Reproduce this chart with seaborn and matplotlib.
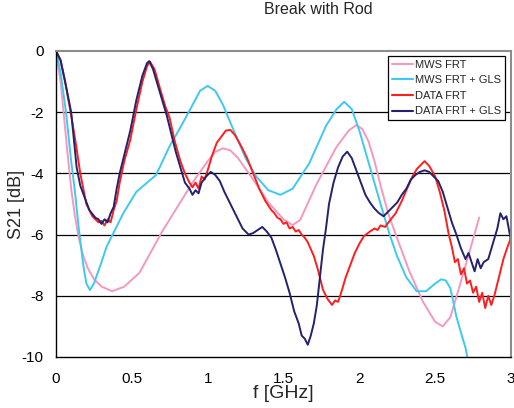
import numpy as np
import pandas as pd
import matplotlib
matplotlib.use("Agg")
import matplotlib.pyplot as plt
import seaborn as sns

# ---------------- data ----------------
mws_frt_f = [0.0, 0.03, 0.05, 0.075, 0.1, 0.125, 0.15, 0.18, 0.21, 0.25, 0.3, 0.37,
             0.45, 0.55, 0.6, 0.7, 0.8, 0.9, 1.0, 1.05, 1.1, 1.15, 1.2, 1.3, 1.4, 1.5,
             1.56, 1.61, 1.72, 1.85, 1.93, 1.98, 2.02, 2.06, 2.1, 2.14, 2.19, 2.24,
             2.33, 2.42, 2.5, 2.55, 2.6, 2.66, 2.73, 2.79]
mws_frt_s = [0.0, -1.0, -2.0, -3.3, -4.5, -5.4, -6.1, -6.7, -7.1, -7.45, -7.7, -7.85,
             -7.7, -7.25, -6.8, -5.9, -5.1, -4.3, -3.6, -3.3, -3.18, -3.25, -3.5, -4.2,
             -4.95, -5.5, -5.69, -5.52, -4.33, -3.13, -2.6, -2.42, -2.55, -2.95, -3.6,
             -4.4, -5.3, -6.0, -7.2, -8.2, -8.85, -9.0, -8.7, -7.7, -6.5, -5.44]

mws_gls_f = [0.0, 0.03, 0.066, 0.1, 0.125, 0.15, 0.18, 0.2, 0.224, 0.25, 0.3, 0.334,
             0.444, 0.53, 0.66, 0.75, 0.82, 0.88, 0.95, 1.0, 1.05, 1.1, 1.17, 1.25,
             1.32, 1.4, 1.48, 1.56, 1.67, 1.78, 1.85, 1.9, 1.95, 2.0, 2.07, 2.14, 2.2,
             2.25, 2.31, 2.378, 2.44, 2.5, 2.54, 2.57, 2.6, 2.62, 2.64, 2.67, 2.7,
             2.72]
mws_gls_s = [0.0, -0.7, -2.0, -3.6, -4.6, -5.8, -7.0, -7.6, -7.81, -7.6, -6.9, -6.39,
             -5.3, -4.6, -4.05, -3.1, -2.5, -1.95, -1.3, -1.14, -1.3, -1.75, -2.58,
             -3.5, -4.1, -4.55, -4.7, -4.5, -3.67, -2.45, -1.9, -1.66, -1.9, -2.6,
             -3.8, -5.0, -6.0, -6.72, -7.4, -7.85, -7.85, -7.6, -7.46, -7.5, -7.75,
             -8.2, -8.68, -9.2, -9.7, -10.2]

data_frt_f = [0.0, 0.03, 0.06, 0.1, 0.13, 0.16, 0.2, 0.24, 0.26, 0.28, 0.3, 0.32, 0.34,
              0.36, 0.38, 0.4, 0.42, 0.45, 0.49, 0.53, 0.57, 0.6, 0.62, 0.65, 0.69,
              0.72, 0.75, 0.78, 0.82, 0.85, 0.88, 0.9, 0.92, 0.94, 0.96, 0.98, 1.0,
              1.03, 1.06, 1.09, 1.12, 1.15, 1.18, 1.22, 1.26, 1.3, 1.34, 1.38, 1.42,
              1.44, 1.46, 1.48, 1.5, 1.52, 1.54, 1.56, 1.58, 1.6, 1.62, 1.64, 1.66,
              1.7, 1.73, 1.76, 1.79, 1.82, 1.84, 1.86, 1.88, 1.91, 1.94, 1.97, 2.0,
              2.03, 2.07, 2.1, 2.12, 2.14, 2.17, 2.2, 2.24, 2.28, 2.31, 2.35, 2.38,
              2.41, 2.43, 2.46, 2.5, 2.53, 2.56, 2.59, 2.61, 2.63, 2.65, 2.67, 2.69,
              2.71, 2.73, 2.75, 2.77, 2.79, 2.81, 2.83, 2.85, 2.87, 2.89, 2.92, 2.95,
              2.97, 3.0]
data_frt_s = [0.0, -0.3, -1.0, -2.1, -3.0, -4.0, -5.0, -5.4, -5.5, -5.6, -5.55, -5.7,
              -5.5, -5.6, -5.2, -4.9, -4.3, -3.6, -2.9, -1.9, -1.0, -0.5, -0.35, -0.6,
              -1.3, -1.8, -2.2, -2.9, -3.6, -4.0, -4.3, -4.45, -4.3, -4.5, -4.1, -4.2,
              -3.9, -3.4, -3.0, -2.8, -2.6, -2.58, -2.75, -3.1, -3.5, -4.0, -4.5, -4.9,
              -5.2, -5.3, -5.45, -5.5, -5.65, -5.6, -5.8, -5.75, -5.9, -5.85, -6.0,
              -6.1, -6.25, -6.7, -7.2, -7.8, -8.1, -8.3, -8.15, -8.2, -7.9, -7.4, -7.0,
              -6.6, -6.3, -6.05, -5.9, -5.8, -5.85, -5.7, -5.75, -5.55, -5.3, -4.9,
              -4.55, -4.1, -3.85, -3.7, -3.6, -3.75, -4.1, -4.6, -5.2, -6.0, -6.4,
              -6.9, -6.8, -7.3, -7.1, -7.6, -7.5, -7.9, -7.7, -8.2, -7.9, -8.4, -8.0,
              -8.3, -8.0, -7.4, -6.8, -6.5, -6.1]

data_gls_f = [0.0, 0.03, 0.06, 0.1, 0.136, 0.16, 0.19, 0.22, 0.26, 0.28, 0.3, 0.32,
              0.34, 0.36, 0.38, 0.4, 0.42, 0.45, 0.49, 0.53, 0.57, 0.6, 0.615, 0.64,
              0.67, 0.7, 0.73, 0.76, 0.79, 0.82, 0.85, 0.88, 0.9, 0.92, 0.94, 0.96,
              0.99, 1.02, 1.05, 1.08, 1.11, 1.15, 1.19, 1.23, 1.27, 1.3, 1.33, 1.36,
              1.39, 1.42, 1.45, 1.48, 1.51, 1.54, 1.57, 1.6, 1.62, 1.64, 1.66, 1.68,
              1.7, 1.72, 1.74, 1.76, 1.78, 1.8, 1.83, 1.86, 1.89, 1.92, 1.95, 1.98,
              2.01, 2.04, 2.07, 2.1, 2.13, 2.16, 2.19, 2.22, 2.25, 2.28, 2.31, 2.34,
              2.37, 2.4, 2.43, 2.46, 2.49, 2.52, 2.55, 2.58, 2.61, 2.64, 2.67, 2.7,
              2.72, 2.74, 2.76, 2.78, 2.8, 2.82, 2.85, 2.88, 2.91, 2.93, 2.95, 2.97,
              3.0]
data_gls_s = [0.0, -0.3, -1.0, -2.0, -3.8, -4.4, -4.8, -5.2, -5.45, -5.5, -5.65, -5.5,
              -5.6, -5.3, -5.1, -4.5, -4.0, -3.4, -2.6, -1.6, -0.8, -0.4, -0.33, -0.6,
              -1.1, -1.6, -2.1, -2.7, -3.3, -3.8, -4.3, -4.5, -4.7, -4.55, -4.65, -4.3,
              -4.1, -3.95, -4.05, -4.25, -4.6, -5.0, -5.4, -5.8, -6.0, -5.95, -5.85,
              -5.75, -5.9, -6.1, -6.5, -6.95, -7.4, -7.9, -8.5, -8.9, -9.3, -9.4, -9.6,
              -9.3, -8.9, -8.3, -7.4, -6.5, -5.8, -5.0, -4.3, -3.8, -3.45, -3.29, -3.5,
              -3.9, -4.3, -4.7, -4.95, -5.15, -5.3, -5.4, -5.25, -5.1, -4.95, -4.7,
              -4.5, -4.2, -4.05, -3.95, -3.9, -3.95, -4.1, -4.25, -4.6, -5.1, -5.6,
              -6.0, -6.45, -6.8, -6.6, -6.9, -7.2, -6.8, -7.1, -6.9, -6.8, -6.3, -5.8,
              -5.3, -5.5, -5.4, -6.2]

series_names = ["MWS FRT", "MWS FRT + GLS", "DATA FRT", "DATA FRT + GLS"]
series_colors = ["#F598C0", "#3EC8F2", "#FF1E1E", "#22226E"]

x_ticks = [0, 0.5, 1, 1.5, 2, 2.5, 3]
x_ticklabels = ["0", "0.5", "1", "1.5", "2", "2.5", "3"]
y_ticks = [0, -2, -4, -6, -8, -10]
y_ticklabels = ["0", "-2", "-4", "-6", "-8", "-10"]

# ---------------- frame ----------------
frames = []
for name, f, s in zip(series_names,
                      [mws_frt_f, mws_gls_f, data_frt_f, data_gls_f],
                      [mws_frt_s, mws_gls_s, data_frt_s, data_gls_s]):
    frames.append(pd.DataFrame({"f": f, "S21": s, "series": name}))
df = pd.concat(frames, ignore_index=True)

sns.set_style("white")
plt.rcParams["font.family"] = ["Liberation Sans", "DejaVu Sans"]

fig = plt.figure(figsize=(5.14, 4.08), dpi=100)
ax = fig.add_axes([56 / 514, 1 - 357 / 408, 455 / 514, 306 / 408])

sns.lineplot(data=df, x="f", y="S21", hue="series", hue_order=series_names,
             palette=dict(zip(series_names, series_colors)), sort=False,
             estimator=None, linewidth=1.4, ax=ax, legend=True)

ax.set_xlim(0, 3)
ax.set_ylim(-10, 0)
ax.set_xticks(x_ticks)
ax.set_xticklabels(x_ticklabels)
ax.set_yticks(y_ticks)
ax.set_yticklabels(y_ticklabels)
ax.tick_params(axis="both", direction="out", length=4, width=1, colors="black",
               labelsize=11)
ax.tick_params(axis="x", pad=7)
ax.tick_params(axis="y", pad=5)

for yv in [-2, -4, -6, -8]:
    ax.axhline(yv, color="black", linewidth=0.9, zorder=0)

for side in ["left", "bottom"]:
    ax.spines[side].set_color("black")
    ax.spines[side].set_linewidth(1.0)
for side in ["top", "right"]:
    ax.spines[side].set_color("#8C8C8C")
    ax.spines[side].set_linewidth(1.5)
    ax.spines[side].set_visible(True)

ax.set_xlabel("f [GHz]", fontsize=14, labelpad=-1)
ax.set_ylabel("S21 [dB]", fontsize=13)
ax.yaxis.set_label_coords(-0.068, 0.5)

leg = ax.legend(loc="upper right", bbox_to_anchor=(0.987, 0.984), borderaxespad=0,
                fontsize=8, frameon=True, fancybox=False, framealpha=1,
                edgecolor="black", handlelength=1.9, handletextpad=0.15,
                labelspacing=0.5, borderpad=0.35)
leg.get_frame().set_linewidth(0.9)
for line in leg.get_lines():
    line.set_linewidth(1.5)

fig.text(318 / 514, 1 - 10 / 408, "Break with Rod", ha="center", va="center",
         fontsize=11.5)

fig.savefig("out.png", dpi=100)
